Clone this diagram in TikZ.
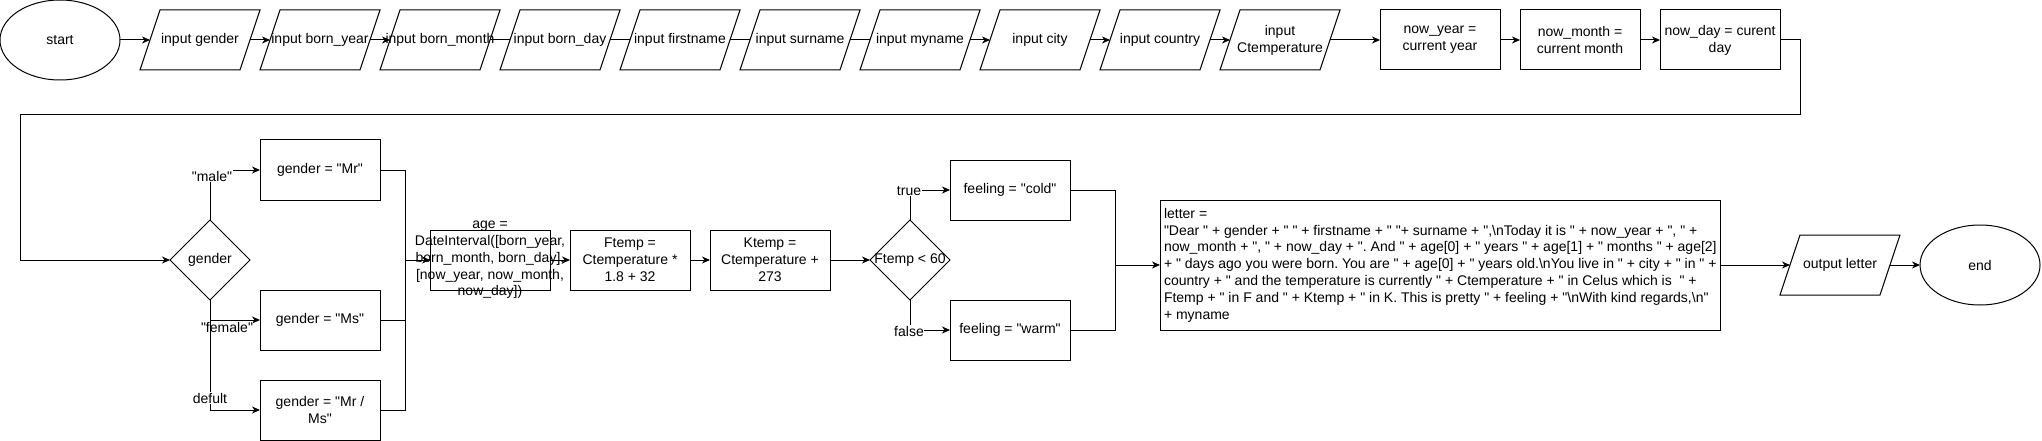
\documentclass[tikz,border=0pt]{standalone}
\usepackage{fontspec}
\newfontfamily\lsans{Liberation Sans}
\usetikzlibrary{shapes.geometric,arrows.meta}
\frenchspacing
\begin{document}
\begin{tikzpicture}[x=1pt,y=-1pt,line width=1pt,
  every node/.style={font=\lsans\fontsize{14}{16.8}\selectfont, inner sep=0pt, outer sep=0pt, align=center},
  box/.style={draw, rectangle, minimum width=120pt, minimum height=60pt},
  io/.style={rectangle, minimum width=100pt, minimum height=60pt},
  term/.style={draw, ellipse, minimum width=120pt, minimum height=80pt},
  dec/.style={draw, diamond, aspect=1, minimum width=80pt, minimum height=80pt},
  lbl/.style={fill=white, inner sep=0.5pt},
  arr/.style={-{Stealth[length=8pt,width=7pt,inset=2.5pt]}}]
\useasboundingbox (0,0) rectangle (2042,441);
% ---- top row
\node[term] (start) at (60,40) {start};
\node[io] (ig) at (200,40) {input gender};
\node[io] (by) at (320,40) {input born\_year};
\node[io] (bm) at (440,40) {};
\node (bmt) at (bm) {input born\_month};
\node[io] (bd) at (560,40) {input born\_day};
\node[io] (fn) at (680,40) {input firstname};
\node[io] (sn) at (800,40) {input surname};
\node[io] (mn) at (920,40) {input myname};
\node[io] (ci) at (1040,40) {input city};
\node[io] (co) at (1160,40) {input country};
\node[io] (ct) at (1280,40) {input\\Ctemperature};
\node[box] (ny) at (1440,40) {now\_year =\\current year};
\node[box] (nm) at (1580,40) {now\_month =\\current month};
\node[box] (nd) at (1720,40) {now\_day = curent\\day};
% ---- second row
\node[dec] (gd) at (210,260) {};
\node (gdt) at (gd) {gender};
\node[box] (mr) at (320,170) {gender = "Mr"};
\node[box] (ms) at (320,320) {gender = "Ms"};
\node[box] (mrms) at (320,410) {gender = "Mr /\\Ms"};
\node[box] (age) at (490,260) {};
\node (aget) at (age) {age =\\DateInterval([born\_year,\\born\_month, born\_day],\\{}[now\_year, now\_month,\\now\_day])};
\node[box] (ft) at (630,260) {Ftemp =\\Ctemperature *\\1.8 + 32};
\node[box] (kt) at (770,260) {Ktemp =\\Ctemperature +\\273};
\node[dec] (fd) at (910,260) {};
\node (fdt) at (fd) {Ftemp < 60};
\node[box] (cold) at (1010,190) {feeling = "cold"};
\node[box] (warm) at (1010,330) {feeling = "warm"};
\node[draw, rectangle, minimum width=560pt, minimum height=130pt] (letter) at (1440,265) {};
\node[anchor=west, align=left] (lettert) at ([xshift=4pt]letter.west) {letter =\\
"Dear " + gender + " " + firstname + " "+ surname + ",\textbackslash nToday it is " + now\_year + ", " +\\
now\_month + ", " + now\_day + ". And " + age[0] + " years " + age[1] + " months " + age[2]\\
+ " days ago you were born. You are " + age[0] + " years old.\textbackslash nYou live in " + city + " in " +\\
country + " and the temperature is currently " + Ctemperature + " in Celus which is~ " +\\
Ftemp + " in F and " + Ktemp + " in K. This is pretty " + feeling + "\textbackslash nWith kind regards,\textbackslash n"\\
+ myname};
\node[io] (ol) at (1840,265) {output letter};
\node[term] (stop) at (1980,265) {end};
% ---- parallelogram outlines
\foreach \n in {ig,by,bm,bd,fn,sn,mn,ci,co,ct,ol}
  \draw ([xshift=10pt]\n.north west) -- ([xshift=10pt]\n.north east)
     -- ([xshift=-10pt]\n.south east) -- ([xshift=-10pt]\n.south west) -- cycle;
% ---- top row connectors
\draw[arr] (start) -- (ig);
\draw[arr] (ig) -- (by);
\draw[arr] (by) -- (bm);
\draw (bm) -- (bd);
\draw (bd) -- (fn);
\draw (fn) -- (sn);
\draw (sn) -- (mn);
\draw[arr] (mn) -- (ci);
\draw[arr] (ci) -- (co);
\draw[arr] (co) -- (ct);
\draw[arr] (ct) -- (ny);
\draw[arr] (ny) -- (nm);
\draw[arr] (nm) -- (nd);
\coordinate (l1) at (1800,115);
\coordinate (l2) at (20,115);
\draw[arr] (nd.east) -| (l1) -- (l2) |- (gd.west);
% ---- gender branches
\draw[arr] (gd.north) |- (mr.west);
\node[lbl] (lmale) at (212,176) {"male"};
\draw[arr] (gd.south) |- (ms.west);
\node[lbl] (lfemale) at (227,327) {"female"};
\draw[arr] (gd.south) |- (mrms.west);
\node[lbl] (ldef) at (210,398) {defult};
\coordinate (gm) at (405,260);
\draw (mr.east) -| (gm);
\draw (ms.east) -| (gm);
\draw (mrms.east) -| (gm);
\draw[arr] (gm) -- (age.west);
\draw[arr] (age) -- (ft);
\draw[arr] (ft) -- (kt);
\draw[arr] (kt) -- (fd.west);
% ---- temperature decision
\draw[arr] (fd.north) |- (cold.west);
\node[lbl] (ltrue) at (909,191) {true};
\draw[arr] (fd.south) |- (warm.west);
\node[lbl] (lfalse) at (909,331) {false};
\coordinate (fm) at (1115,265);
\draw (cold.east) -| (fm);
\draw (warm.east) -| (fm);
\draw[arr] (fm) -- (letter.west);
\draw[arr] (letter.east) -- (ol);
\draw[arr] (ol) -- (stop);
\end{tikzpicture}
\end{document}
